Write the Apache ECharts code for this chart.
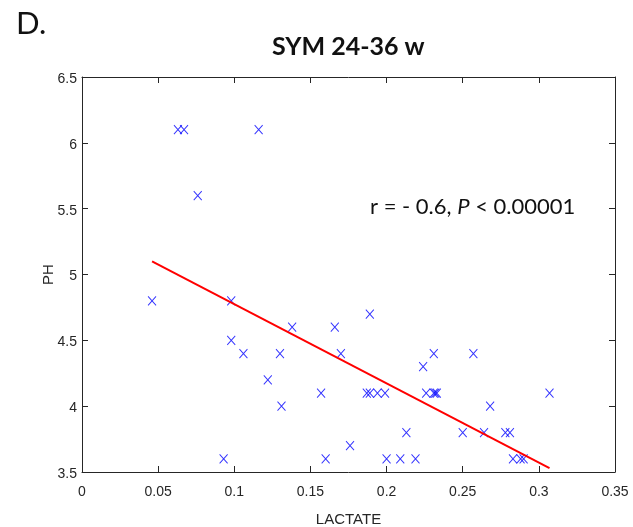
<!DOCTYPE html>
<html>
<head>
<meta charset="utf-8">
<script src="https://cdn.jsdelivr.net/npm/echarts@6/dist/echarts.min.js"></script>
<style>
  html, body { margin: 0; padding: 0; background: #fff; }
  #scatterChart { width: 633px; height: 527px; }
</style>
</head>
<body>
<div id="scatterChart"></div>
<script>
  // values
  var lactate = [0.046, 0.063, 0.067, 0.116, 0.076, 0.098, 0.098, 0.106, 0.122, 0.130,
                 0.131, 0.093, 0.138, 0.157, 0.160, 0.166, 0.170, 0.176, 0.189, 0.187,
                 0.189, 0.194, 0.199, 0.200, 0.209, 0.213, 0.219, 0.224, 0.226, 0.231,
                 0.231, 0.232, 0.233, 0.250, 0.257, 0.268, 0.264, 0.278, 0.281, 0.283,
                 0.288, 0.290, 0.307];
  var ph = [4.8, 6.1, 6.1, 6.1, 5.6, 4.8, 4.5, 4.4, 4.2, 4.4,
            4.0, 3.6, 4.6, 4.1, 3.6, 4.6, 4.4, 3.7, 4.7, 4.1,
            4.1, 4.1, 4.1, 3.6, 3.6, 3.8, 3.6, 4.3, 4.1, 4.4,
            4.1, 4.1, 4.1, 3.8, 4.4, 4.0, 3.8, 3.8, 3.8, 3.6,
            3.6, 3.6, 4.1];
  // regression line end points
  var fitX = [0.046, 0.307];
  var fitY = [5.10, 3.53];

  var xTicks = ['0', '0.05', '0.1', '0.15', '0.2', '0.25', '0.3', '0.35'];
  var yTicks = ['3.5', '4', '4.5', '5', '5.5', '6', '6.5'];

  var points = [];
  for (var i = 0; i < lactate.length; i++) {
    points.push([lactate[i], ph[i]]);
  }
  var fitLine = [];
  for (var j = 0; j < fitX.length; j++) {
    fitLine.push([fitX[j], fitY[j]]);
  }

  var tickFont = "'Liberation Sans Narrow', 'Liberation Sans', Arial, sans-serif";
  var textFont = "Lato, 'Noto Sans', sans-serif";
  var axisColor = '#262626';

  function boxAxis(pos, min, max, interval, showLabel, labels, margin) {
    return {
      type: 'value',
      position: pos,
      min: min,
      max: max,
      interval: interval,
      splitLine: { show: false },
      axisLine: { show: true, onZero: false, lineStyle: { color: axisColor, width: 1 } },
      axisTick: { show: true, inside: true, length: 6, lineStyle: { color: axisColor } },
      axisLabel: {
        show: showLabel,
        color: axisColor,
        fontFamily: tickFont,
        fontSize: 14,
        margin: margin,
        formatter: function (v) {
          var s = String(Math.round(v * 100) / 100);
          return labels.indexOf(s) >= 0 ? s : '';
        }
      }
    };
  }

  var xMain = boxAxis('bottom', 0, 0.35, 0.05, true, xTicks, 13);
  xMain.name = 'LACTATE';
  xMain.nameLocation = 'middle';
  xMain.nameGap = 40;
  xMain.nameMoveOverlap = false;
  xMain.nameTextStyle = { color: axisColor, fontFamily: tickFont, fontSize: 15 };

  var yMain = boxAxis('left', 3.5, 6.5, 0.5, true, yTicks, 5);
  yMain.axisLabel.verticalAlign = 'top';
  yMain.axisLabel.padding = [-5, 0, 0, 0];
  yMain.name = 'PH';
  yMain.nameLocation = 'middle';
  yMain.nameGap = 26;
  yMain.nameMoveOverlap = false;
  yMain.nameTextStyle = { color: axisColor, fontFamily: tickFont, fontSize: 15 };

  var options = {
    animation: false,
    backgroundColor: '#fff',
    grid: { left: 82, right: 18, top: 77, bottom: 55, outerBoundsMode: 'none', containLabel: false },
    xAxis: [xMain, boxAxis('top', 0, 0.35, 0.05, false, xTicks, 8)],
    yAxis: [yMain, boxAxis('right', 3.5, 6.5, 0.5, false, yTicks, 8)],
    graphic: [
      {
        type: 'text', left: 16, top: 8,
        style: { text: 'D.', fontSize: 31, fontFamily: textFont, fill: '#111' }
      },
      {
        type: 'text', left: 272, top: 34,
        style: { text: 'SYM 24-36 w', fontSize: 25, fontWeight: 'bold', fontFamily: textFont, fill: '#111' }
      },
      {
        type: 'text', left: 370, top: 196,
        style: {
          text: '{a|r = - 0.6, }{b|P}{a| < 0.00001}',
          rich: {
            a: { fontSize: 22, fontFamily: textFont, fill: '#111' },
            b: { fontSize: 22, fontStyle: 'italic', fontFamily: textFont, fill: '#111' }
          }
        }
      }
    ],
    series: [
      {
        name: 'samples',
        type: 'scatter',
        xAxisIndex: 0,
        yAxisIndex: 0,
        symbol: 'path://M0,0L10,10M10,0L0,10',
        symbolSize: [8, 9],
        itemStyle: { color: 'rgba(0,0,0,0)', borderColor: '#0000ff', borderWidth: 1 },
        data: points
      },
      {
        name: 'fit',
        type: 'line',
        xAxisIndex: 0,
        yAxisIndex: 0,
        symbol: 'none',
        lineStyle: { color: '#ff0000', width: 2 },
        data: fitLine
      }
    ]
  };

  var scatterChart = echarts.init(document.getElementById('scatterChart'));
  scatterChart.setOption(options);
</script>
</body>
</html>
